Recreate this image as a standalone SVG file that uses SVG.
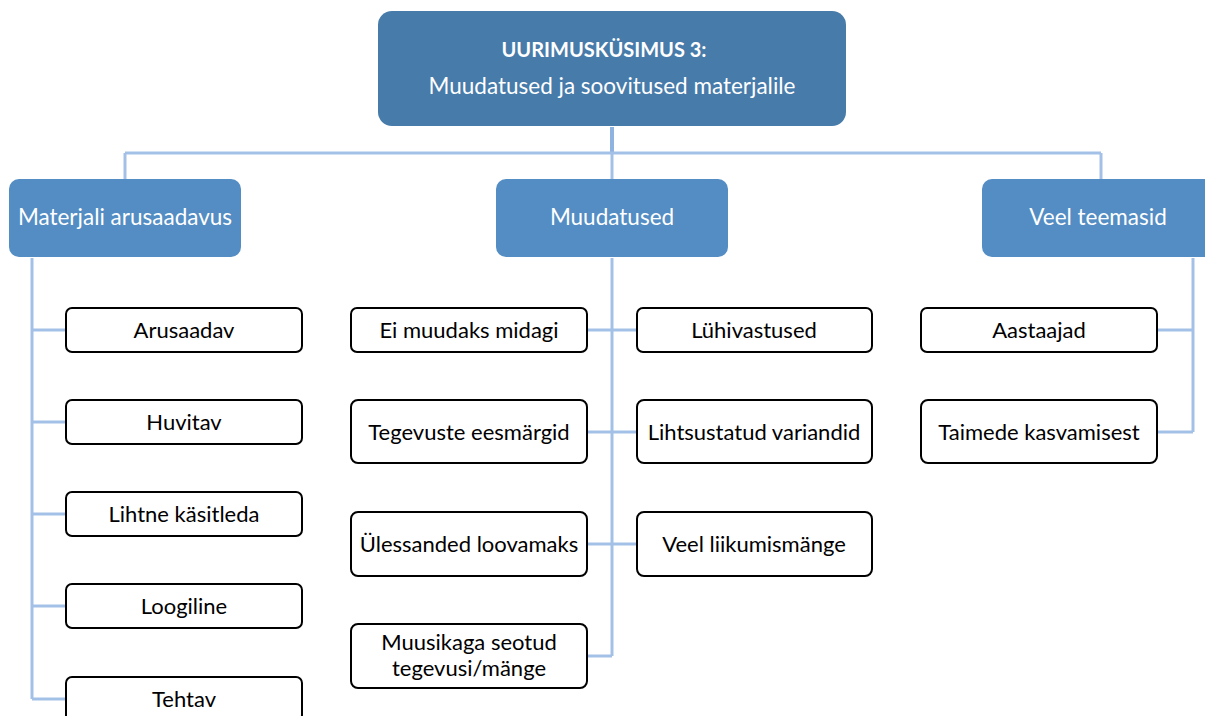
<svg xmlns="http://www.w3.org/2000/svg" width="1205" height="716" viewBox="0 0 1205 716">
<style>
.conn{fill:none;stroke:#A3C1E6;stroke-width:3}
.top{fill:#477BAA}
.mid{fill:#538DC3}
.leaf{fill:#ffffff;stroke:#000000;stroke-width:2}
.tw{fill:#ffffff;font-family:Lato,"Open Sans",sans-serif;font-size:22.5px;text-anchor:middle}
.tb{fill:#000000;font-family:Lato,"Open Sans",sans-serif;font-size:22px;text-anchor:middle}
</style>
<rect width="1205" height="716" fill="#ffffff"/>
<g id="connectors">
<path class="conn" d="M612 127V153" style="stroke:#8FB3E0;stroke-width:4"/>
<path class="conn" d="M125 153H1101M125 153V179M612 153V179M1101 153V179"/>
<path class="conn" d="M32 258V699M32 330H66M32 422H66M32 514H66M32 606H66M32 699H66"/>
<path class="conn" d="M612 258V656M587 330H637M587 432H637M587 544H637M587 656H612"/>
<path class="conn" d="M1193 258V432M1157 330H1193M1157 432H1193"/>
</g>
<g id="n-root"><rect class="top" x="378" y="11" width="468" height="115" rx="14"/>
<text class="tw" x="604" y="57" style="font-weight:bold;font-size:20px">UURIMUSKÜSIMUS 3:</text>
<text class="tw" x="612" y="94">Muudatused ja soovitused materjalile</text></g>
<g id="n-materjali"><rect class="mid" x="9" y="179" width="232" height="78" rx="10"/><text class="tw" x="125" y="225">Materjali arusaadavus</text></g>
<g id="n-muudatused"><rect class="mid" x="496" y="179" width="232" height="78" rx="10"/><text class="tw" x="612" y="225">Muudatused</text></g>
<g id="n-veel"><rect class="mid" x="982" y="179" width="236" height="78" rx="10"/><text class="tw" x="1098" y="225">Veel teemasid</text></g>
<g id="n-arusaadav"><rect class="leaf" x="66" y="308" width="236" height="44" rx="6"/><text class="tb" x="184" y="338">Arusaadav</text></g>
<g id="n-huvitav"><rect class="leaf" x="66" y="400" width="236" height="44" rx="6"/><text class="tb" x="184" y="430">Huvitav</text></g>
<g id="n-lihtne"><rect class="leaf" x="66" y="492" width="236" height="44" rx="6"/><text class="tb" x="184" y="522">Lihtne käsitleda</text></g>
<g id="n-loogiline"><rect class="leaf" x="66" y="584" width="236" height="44" rx="6"/><text class="tb" x="184" y="614">Loogiline</text></g>
<g id="n-tehtav"><rect class="leaf" x="66" y="677" width="236" height="44" rx="6"/><text class="tb" x="184" y="707">Tehtav</text></g>
<g id="n-ei"><rect class="leaf" x="351" y="308" width="236" height="44" rx="6"/><text class="tb" x="469" y="338">Ei muudaks midagi</text></g>
<g id="n-tegevuste"><rect class="leaf" x="351" y="400" width="236" height="63" rx="7"/><text class="tb" x="469" y="440">Tegevuste eesmärgid</text></g>
<g id="n-ulessanded"><rect class="leaf" x="351" y="512" width="236" height="64" rx="7"/><text class="tb" x="469" y="552">Ülessanded loovamaks</text></g>
<g id="n-muusikaga"><rect class="leaf" x="351" y="624" width="236" height="64" rx="7"/><text class="tb" x="469" y="650">Muusikaga seotud</text><text class="tb" x="469" y="676">tegevusi/mänge</text></g>
<g id="n-luhivastused"><rect class="leaf" x="637" y="308" width="235" height="44" rx="6"/><text class="tb" x="754" y="338">Lühivastused</text></g>
<g id="n-lihtsustatud"><rect class="leaf" x="637" y="400" width="235" height="63" rx="7"/><text class="tb" x="754" y="440">Lihtsustatud variandid</text></g>
<g id="n-liikumis"><rect class="leaf" x="637" y="512" width="235" height="64" rx="7"/><text class="tb" x="754" y="552">Veel liikumismänge</text></g>
<g id="n-aastaajad"><rect class="leaf" x="921" y="308" width="236" height="44" rx="6"/><text class="tb" x="1039" y="338">Aastaajad</text></g>
<g id="n-taimede"><rect class="leaf" x="921" y="400" width="236" height="63" rx="7"/><text class="tb" x="1039" y="440">Taimede kasvamisest</text></g>
</svg>
